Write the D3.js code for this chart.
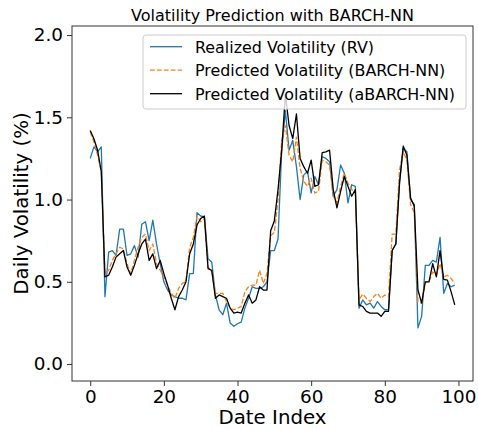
<!DOCTYPE html>
<html>
<head>
<meta charset="utf-8">
<script src="https://cdn.jsdelivr.net/npm/d3@7"></script>
<style>
  body { margin: 0; background: #fff; }
  text { font-family: "DejaVu Sans", sans-serif; fill: #000; }
</style>
</head>
<body>
<div id="chart"></div>
<script>
// values, index 0..99
var rv = [1.25, 1.32, 1.29, 1.32, 0.41, 0.68, 0.69, 0.66, 0.82, 0.82,
  0.66, 0.67, 0.72, 0.65, 0.85, 0.865, 0.75, 0.875, 0.73, 0.61,
  0.50, 0.45, 0.42, 0.41, 0.40, 0.40, 0.39, 0.55, 0.55, 0.92,
  0.90, 0.895, 0.64, 0.62, 0.42, 0.33, 0.30, 0.37, 0.25, 0.23,
  0.245, 0.255, 0.34, 0.40, 0.47, 0.46, 0.46, 0.47, 0.50, 0.69,
  0.69, 0.76, 1.30, 1.54, 1.30, 1.36, 1.20, 1.00, 1.15, 1.17,
  1.04, 1.14, 1.09, 1.26, 1.25, 1.23, 1.02, 1.06, 1.21, 1.16,
  0.98, 1.09, 1.08, 0.34, 0.39, 0.36, 0.37, 0.34, 0.38, 0.35,
  0.33, 0.33, 0.69, 0.73, 1.11, 1.31, 1.29, 1.00, 0.97, 0.22,
  0.29, 0.60, 0.60, 0.63, 0.62, 0.77, 0.43, 0.49, 0.47, 0.48];

var barch = [1.41, 1.35, 1.27, 1.17, 0.55, 0.57, 0.63, 0.67, 0.71, 0.70,
  0.61, 0.55, 0.63, 0.71, 0.77, 0.79, 0.69, 0.73, 0.61, 0.57,
  0.53, 0.48, 0.43, 0.40, 0.46, 0.49, 0.50, 0.71, 0.77, 0.90,
  0.865, 0.885, 0.59, 0.56, 0.43, 0.43, 0.43, 0.38, 0.34, 0.33,
  0.34, 0.35, 0.44, 0.47, 0.48, 0.48, 0.57, 0.49, 0.55, 0.78,
  0.80, 1.00, 1.36, 1.45, 1.27, 1.23, 1.38, 1.19, 1.11, 1.08,
  1.13, 1.04, 1.05, 1.24, 1.23, 1.21, 1.02, 0.98, 1.08, 1.16,
  1.10, 1.06, 1.05, 0.39, 0.425, 0.40, 0.38, 0.41, 0.43, 0.40,
  0.42, 0.41, 0.79, 0.79, 1.18, 1.29, 1.24, 0.97, 0.92, 0.38,
  0.37, 0.50, 0.50, 0.56, 0.54, 0.61, 0.53, 0.54, 0.52, 0.49];

var abarch = [1.42, 1.37, 1.30, 1.17, 0.53, 0.54, 0.59, 0.65, 0.67, 0.69,
  0.59, 0.54, 0.60, 0.67, 0.73, 0.76, 0.63, 0.67, 0.58, 0.63,
  0.55, 0.48, 0.40, 0.33, 0.41, 0.45, 0.50, 0.67, 0.73, 0.845,
  0.885, 0.90, 0.58, 0.57, 0.40, 0.42, 0.41, 0.40, 0.34, 0.31,
  0.315, 0.31, 0.37, 0.42, 0.37, 0.39, 0.47, 0.45, 0.45, 0.81,
  0.87, 1.06, 1.30, 1.64, 1.45, 1.37, 1.52, 1.25, 1.20, 1.16,
  1.24, 1.08, 1.09, 1.285, 1.29, 1.30, 1.06, 0.95, 1.05, 1.14,
  1.08, 1.02, 1.06, 0.36, 0.35, 0.32, 0.31, 0.31, 0.31, 0.29,
  0.32, 0.32, 0.69, 0.73, 1.10, 1.325, 1.27, 1.01, 0.96, 0.45,
  0.37, 0.50, 0.50, 0.61, 0.53, 0.69, 0.515, 0.51, 0.44, 0.36];

var xTicks = [0, 20, 40, 60, 80, 100];
var yTicks = [0.0, 0.5, 1.0, 1.5, 2.0];
var seriesNames = ['Realized Volatility (RV)', 'Predicted Volatility (BARCH-NN)', 'Predicted Volatility (aBARCH-NN)'];

var width = 478, height = 430;
var plot = {left: 72, right: 473, top: 26, bottom: 381};

var svg = d3.select('#chart').append('svg')
  .attr('width', width)
  .attr('height', height);

var x = d3.scaleLinear().domain([-4.95, 103.95]).range([plot.left, plot.right]);
var y = d3.scaleLinear().domain([-0.103, 2.055]).range([plot.bottom, plot.top]);

var series = [
  {name: seriesNames[0], values: rv, color: '#1f77b4', dash: null},
  {name: seriesNames[1], values: barch, color: '#ff7f0e', dash: '4.8,2.1'},
  {name: seriesNames[2], values: abarch, color: '#000000', dash: null}
];

var line = d3.line()
  .x(function (d, i) { return x(i); })
  .y(function (d) { return y(d); });

svg.append('clipPath').attr('id', 'clip')
  .append('rect')
  .attr('x', plot.left).attr('y', plot.top)
  .attr('width', plot.right - plot.left).attr('height', plot.bottom - plot.top);

var lines = svg.append('g').attr('clip-path', 'url(#clip)');
series.forEach(function (s) {
  lines.append('path')
    .datum(s.values)
    .attr('d', line)
    .attr('fill', 'none')
    .attr('stroke', s.color)
    .attr('stroke-width', 1.3)
    .attr('stroke-dasharray', s.dash)
    .attr('stroke-linejoin', 'round');
});

// axes
var xAxis = svg.append('g')
  .attr('transform', 'translate(0,' + plot.bottom + ')')
  .call(d3.axisBottom(x).tickValues(xTicks).tickSize(5).tickPadding(4).tickFormat(d3.format('d')));
var yAxis = svg.append('g')
  .attr('transform', 'translate(' + plot.left + ',0)')
  .call(d3.axisLeft(y).tickValues(yTicks).tickSize(5).tickPadding(4).tickFormat(d3.format('.1f')));

[xAxis, yAxis].forEach(function (a) {
  a.select('.domain').remove();
  a.selectAll('line').attr('stroke', '#333').attr('stroke-width', 1);
  a.selectAll('text')
    .style('font-family', '"DejaVu Sans", sans-serif')
    .style('font-size', '18.4px')
    .attr('fill', '#000');
});

svg.append('rect')
  .attr('x', plot.left).attr('y', plot.top)
  .attr('width', plot.right - plot.left).attr('height', plot.bottom - plot.top)
  .attr('fill', 'none')
  .attr('stroke', '#333')
  .attr('stroke-width', 1);

// title and labels
svg.append('text')
  .attr('x', (plot.left + plot.right) / 2).attr('y', 21)
  .attr('text-anchor', 'middle')
  .style('font-size', '16px')
  .text('Volatility Prediction with BARCH-NN');

svg.append('text')
  .attr('x', (plot.left + plot.right) / 2).attr('y', 424)
  .attr('text-anchor', 'middle')
  .style('font-size', '19.8px')
  .text('Date Index');

svg.append('text')
  .attr('transform', 'translate(28,' + (plot.top + plot.bottom) / 2 + ') rotate(-90)')
  .attr('text-anchor', 'middle')
  .style('font-size', '19.8px')
  .text('Daily Volatility (%)');

// legend
var legend = svg.append('g');
legend.append('rect')
  .attr('x', 143).attr('y', 35)
  .attr('width', 323).attr('height', 74)
  .attr('rx', 3)
  .attr('fill', '#fff').attr('fill-opacity', 0.8)
  .attr('stroke', '#cccccc').attr('stroke-width', 1);

series.forEach(function (s, i) {
  var ly = 46.7 + i * 23.5;
  legend.append('line')
    .attr('x1', 150).attr('x2', 182)
    .attr('y1', ly).attr('y2', ly)
    .attr('stroke', s.color)
    .attr('stroke-width', 1.3)
    .attr('stroke-dasharray', s.dash);
  legend.append('text')
    .attr('x', 195).attr('y', ly + 5.9)
    .style('font-size', '15.9px')
    .text(s.name);
});
</script>
</body>
</html>
